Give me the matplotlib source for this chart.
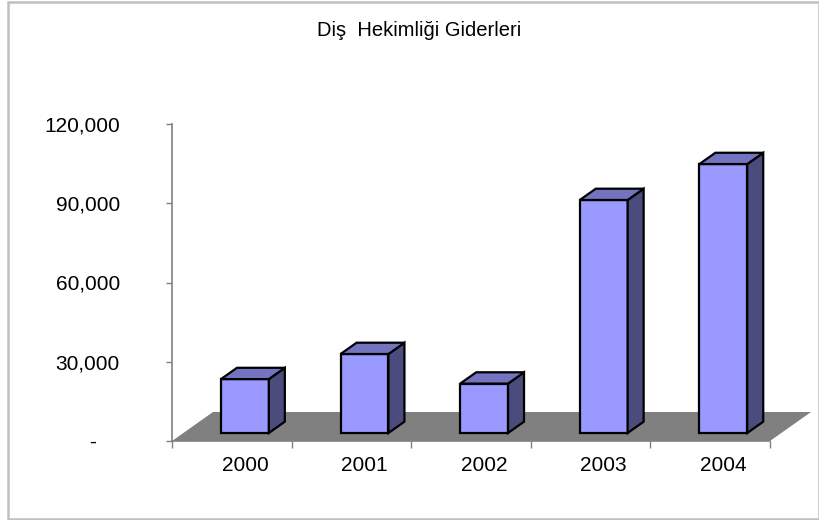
import matplotlib.pyplot as plt
from matplotlib.patches import Polygon, Rectangle

plt.rcParams['font.family'] = ['Liberation Sans', 'DejaVu Sans']

years = ['2000', '2001', '2002', '2003', '2004']
expenses = [20400, 29900, 18700, 88200, 101800]
y_ticks = [0, 30000, 60000, 90000, 120000]
y_tick_labels = ['-    ', '30,000', '60,000', '90,000', '120,000']
title = 'Diş  Hekimliği Giderleri'

# fake 3d geometry (data units)
floor_dx = 0.343
floor_dy = 10980
bar_set = 0.276      # how far back the bars sit on the floor
bar_depth = 0.39
bar_w = 0.40
bar_shift = 0.015

front_c = '#9999FF'
top_c = '#7373BF'
side_c = '#4B4B7D'
floor_c = '#808080'
axis_c = '#808080'


def draw_bar(ax, i, val):
    x0 = i + 0.5 + bar_set * floor_dx + bar_shift - bar_w / 2
    x1 = x0 + bar_w
    y0 = bar_set * floor_dy
    y1 = y0 + val
    ddx = bar_depth * floor_dx
    ddy = bar_depth * floor_dy
    kw = dict(edgecolor='black', linewidth=1.6, joinstyle='miter',
              clip_on=False, zorder=3 + i)
    ax.add_patch(Polygon([(x0, y0), (x1, y0), (x1, y1), (x0, y1)],
                         facecolor=front_c, **kw))
    ax.add_patch(Polygon([(x1, y0), (x1 + ddx, y0 + ddy),
                          (x1 + ddx, y1 + ddy), (x1, y1)],
                         facecolor=side_c, **kw))
    ax.add_patch(Polygon([(x0, y1), (x1, y1), (x1 + ddx, y1 + ddy),
                          (x0 + ddx, y1 + ddy)],
                         facecolor=top_c, **kw))


fig = plt.figure(figsize=(8.19, 5.2), dpi=100)
ax = fig.add_axes([172 / 819, 79 / 520, 598 / 819, 317 / 520])
n = len(years)
ax.set_xlim(0, n)
ax.set_ylim(0, 120000)

# floor
ax.add_patch(Polygon([(0, 0), (n, 0), (n + floor_dx, floor_dy),
                      (floor_dx, floor_dy)],
                     facecolor=floor_c, edgecolor='none', clip_on=False,
                     zorder=1))

for i, v in enumerate(expenses):
    draw_bar(ax, i, v)

for s in ['top', 'right']:
    ax.spines[s].set_visible(False)
for s in ['left', 'bottom']:
    ax.spines[s].set_color(axis_c)
    ax.spines[s].set_linewidth(1.2)
    ax.spines[s].set_zorder(2)

ax.set_yticks(y_ticks)
ax.set_yticklabels(y_tick_labels, fontsize=15)
ax.tick_params(axis='y', length=4.5, width=1, color=axis_c, pad=33)

ax.set_xticks(range(n + 1))
ax.set_xticklabels([''] * (n + 1))
ax.tick_params(axis='x', which='major', length=5, width=1, color=axis_c)
ax.set_xticks([i + 0.5 + bar_set * floor_dx + bar_shift for i in range(n)],
              minor=True)
ax.set_xticklabels(years, minor=True, fontsize=15)
ax.tick_params(axis='x', which='minor', length=0, pad=11)

fig.text(419.5 / 819, 1 - 31 / 520, title, ha='center', va='center',
         fontsize=14.5)

fig.patches.append(Rectangle((7.5 / 819, 1.5 / 520), 811 / 819, 516.5 / 520,
                             transform=fig.transFigure, fill=False,
                             edgecolor='#C0C0C0', linewidth=1.8))

fig.savefig('out.png', dpi=100)
